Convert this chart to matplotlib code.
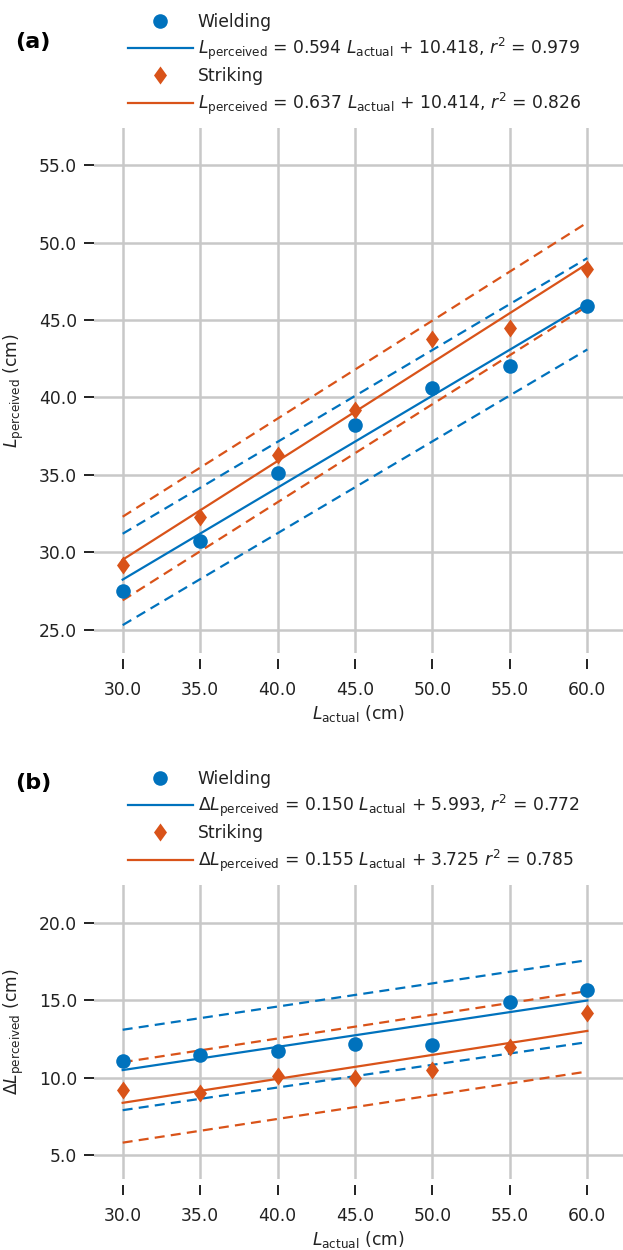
import numpy as np
import matplotlib.pyplot as plt
from matplotlib.lines import Line2D
from matplotlib.path import Path

# lengths (cm)
L_actual = [30, 35, 40, 45, 50, 55, 60]

# panel (a): perceived length
a_wield = [27.5, 30.7, 35.1, 38.2, 40.6, 42.0, 45.9]
a_strike = [29.2, 32.3, 36.3, 39.2, 43.8, 44.5, 48.3]
a_fit_wield = (0.594, 10.418, 0.979)
a_fit_strike = (0.637, 10.414, 0.826)
# dashed bands, values at L_actual = 30 and 60 (lower, upper)
a_band_wield = ([25.3, 43.1], [31.2, 49.0])
a_band_strike = ([26.9, 45.9], [32.3, 51.3])

# panel (b): change in perceived length
b_wield = [11.1, 11.5, 11.7, 12.2, 12.1, 14.9, 15.7]
b_strike = [9.2, 9.0, 10.1, 10.0, 10.5, 12.0, 14.2]
b_fit_wield = (0.150, 5.993, 0.772)
b_fit_strike = (0.155, 3.725, 0.785)
b_band_wield = ([7.9, 12.3], [13.1, 17.6])
b_band_strike = ([5.8, 10.4], [11.0, 15.6])

a_yticks = [25, 30, 35, 40, 45, 50, 55]
b_yticks = [5, 10, 15, 20]

BLUE = '#0072BD'
ORANGE = '#D95319'
TXT = '#222222'
FS = 12.3

plt.rcParams['font.family'] = 'DejaVu Sans'
plt.rcParams['mathtext.fontset'] = 'dejavusans'

# wider diamond than matplotlib's thin 'd'
DIAMOND = Path([(0, -1), (0.72, 0), (0, 1), (-0.72, 0), (0, -1)],
               [Path.MOVETO, Path.LINETO, Path.LINETO, Path.LINETO,
                Path.CLOSEPOLY])
MS_O = 10.5
MS_D = 13

fig = plt.figure(figsize=(6.23, 12.5), dpi=100)
ax_a = fig.add_axes([94/623, 1 - 653/1250, 529/623, 525/1250])
ax_b = fig.add_axes([94/623, 1 - 1179/1250, 529/623, 294/1250])


def draw_panel(ax, wield, strike, fit_w, fit_s, band_w, band_s, yticks, ylim,
               ylab, eq_lhs, sep_s, leg_top):
    x = np.array(L_actual, dtype=float)
    ends = [x.min(), x.max()]
    for c, band in [(BLUE, band_w), (ORANGE, band_s)]:
        for vals in band:
            ax.plot(ends, vals, color=c, lw=1.6, ls=(0, (4.5, 2.8)), zorder=2)
    ax.plot(ends, np.polyval(fit_w[:2], ends), color=BLUE, lw=1.6, zorder=3)
    ax.plot(ends, np.polyval(fit_s[:2], ends), color=ORANGE, lw=1.6, zorder=3)
    ax.plot(x, wield, 'o', color=BLUE, ms=MS_O, mew=0, zorder=4)
    ax.plot(x, strike, ls='none', marker=DIAMOND, color=ORANGE, ms=MS_D,
            mew=0, zorder=4)

    ax.set_xlim(28.15, 62.3)
    ax.set_ylim(*ylim)
    ax.set_xticks(L_actual)
    ax.set_yticks(yticks)
    ax.xaxis.set_major_formatter('{x:.1f}')
    ax.yaxis.set_major_formatter('{x:.1f}')
    ax.grid(True, color='#c8c8c8', lw=1.8)
    ax.set_axisbelow(True)
    for s in ax.spines.values():
        s.set_visible(False)
    ax.spines['bottom'].set_position(('outward', 4.3))
    ax.tick_params(length=7.2, width=1.4, color=TXT, labelsize=FS,
                   labelcolor=TXT)
    ax.tick_params(axis='x', pad=8.5)
    ax.tick_params(axis='y', pad=5)
    ax.set_xlabel(r'$L_\mathrm{actual}$ (cm)', fontsize=FS, color=TXT,
                  labelpad=3)
    ax.set_ylabel(ylab, fontsize=FS, color=TXT, labelpad=9)

    lab_w = (eq_lhs + r' = %.3f $L_\mathrm{actual}$ + %.3f, $r^2$ = %.3f'
             % fit_w)
    lab_s = (eq_lhs + r' = %.3f $L_\mathrm{actual}$ + %.3f' % fit_s[:2]
             + sep_s + r'$r^2$ = %.3f' % fit_s[2])
    handles = [
        Line2D([], [], ls='none', marker='o', color=BLUE, ms=MS_O, mew=0),
        Line2D([], [], color=BLUE, lw=1.6),
        Line2D([], [], ls='none', marker=DIAMOND, color=ORANGE, ms=MS_D,
               mew=0),
        Line2D([], [], color=ORANGE, lw=1.6),
    ]
    labels = ['Wielding', lab_w, 'Striking', lab_s]
    leg = fig.legend(handles, labels, loc='upper left', frameon=False,
                     bbox_to_anchor=(121/623, 1 - leg_top/1250),
                     bbox_transform=fig.transFigure, fontsize=FS,
                     handlelength=3.8, handletextpad=0.3, labelspacing=0.3,
                     borderaxespad=0, borderpad=0.4)
    for t in leg.get_texts():
        t.set_color(TXT)
    return leg


draw_panel(ax_a, a_wield, a_strike, a_fit_wield, a_fit_strike, a_band_wield,
           a_band_strike, a_yticks, (23.5, 57.4), r'$L_\mathrm{perceived}$ (cm)',
           r'$L_\mathrm{perceived}$', ', ', 6)
draw_panel(ax_b, b_wield, b_strike, b_fit_wield, b_fit_strike, b_band_wield,
           b_band_strike, b_yticks, (3.45, 22.46),
           r'$\Delta L_\mathrm{perceived}$ (cm)', r'$\Delta L_\mathrm{perceived}$',
           ' ', 763)

fig.text(15/623, 1 - 42/1250, '(a)', fontsize=16, fontweight='bold',
         va='center', ha='left')
fig.text(15/623, 1 - 783/1250, '(b)', fontsize=16, fontweight='bold',
         va='center', ha='left')

fig.savefig('out.png', dpi=100)
